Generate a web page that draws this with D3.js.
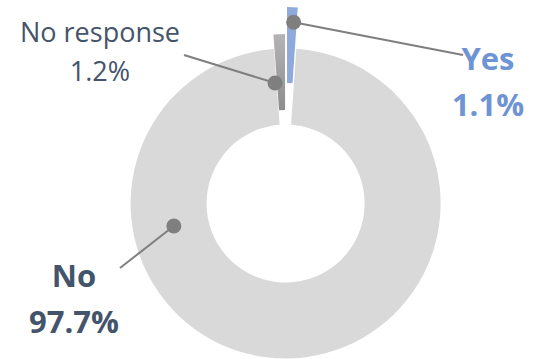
<!DOCTYPE html>
<html>
<head>
<meta charset="utf-8">
<script src="https://cdn.jsdelivr.net/npm/d3@7"></script>
<style>
  html, body { margin: 0; padding: 0; background: #fff; }
  svg { display: block; }
</style>
</head>
<body>
<div class="donut"></div>
<script>
  // data
  const categories = ['Yes', 'No', 'No response'];
  const values = [1.1, 97.7, 1.2];

  const config = {
    width: 536,
    height: 359,
    cx: 285.6,
    cy: 203.5,
    outer: 155,
    inner: 79
  };

  // per slice styling / layout
  const styles = {
    'Yes': { fill: '#8eaadc', explode: 41.5, text: '#6f94d4', bold: true, size: 31,
             dot: { angle: 2.7, r: 140 }, label: [488, 70], end: [463, 55] },
    'No': { fill: '#d9d9d9', explode: 0, text: '#44546a', bold: true, size: 31,
            dot: { angle: 258.6, r: 114 }, label: [74, 287], end: [120, 268] },
    'No response': { fill: 'url(#nrGrad)', explode: 14.5, text: '#44546a', bold: false, size: 27,
                     dot: { angle: -5.4, r: 106.5 }, label: [100, 42], end: [184, 55] }
  };

  const svg = d3.select('.donut')
    .append('svg')
    .attr('width', config.width)
    .attr('height', config.height);

  const grad = svg.append('defs').append('linearGradient')
    .attr('id', 'nrGrad')
    .attr('x1', 0).attr('y1', 0).attr('x2', 0).attr('y2', 1);
  grad.append('stop').attr('offset', '0%').attr('stop-color', '#b4b4b4');
  grad.append('stop').attr('offset', '100%').attr('stop-color', '#8c8c8c');

  const pie = d3.pie().sort(null).value(d => d.value);
  const arcs = pie(categories.map((c, i) => ({ name: c, value: values[i] })));

  const arc = d3.arc().innerRadius(config.inner).outerRadius(config.outer);

  const g = svg.append('g')
    .attr('transform', `translate(${config.cx},${config.cy})`);

  // slice offsets (exploded)
  function offset(d) {
    const mid = (d.startAngle + d.endAngle) / 2;
    return d3.pointRadial(mid, styles[d.data.name].explode);
  }

  g.selectAll('path')
    .data(arcs)
    .enter()
    .append('path')
    .attr('transform', d => `translate(${offset(d)})`)
    .attr('d', arc)
    .attr('fill', d => styles[d.data.name].fill);

  // leader lines + dots + labels
  const leaders = svg.append('g');
  arcs.forEach(d => {
    const s = styles[d.data.name];
    const o = offset(d);
    const p = d3.pointRadial(s.dot.angle * Math.PI / 180, s.dot.r);
    const x = config.cx + o[0] + p[0];
    const y = config.cy + o[1] + p[1];

    leaders.append('line')
      .attr('x1', x).attr('y1', y)
      .attr('x2', s.end[0]).attr('y2', s.end[1])
      .attr('stroke', '#7f7f7f')
      .attr('stroke-width', 2);

    leaders.append('circle')
      .attr('cx', x).attr('cy', y)
      .attr('r', 7.5)
      .attr('fill', '#7f7f7f');

    const t = svg.append('text')
      .attr('x', s.label[0])
      .attr('y', s.label[1])
      .attr('text-anchor', 'middle')
      .attr('font-family', '"Open Sans", sans-serif')
      .attr('font-size', s.size)
      .attr('font-weight', s.bold ? 'bold' : 'normal')
      .attr('fill', s.text);

    t.append('tspan')
      .attr('x', s.label[0])
      .text(d.data.name);
    t.append('tspan')
      .attr('x', s.label[0])
      .attr('dy', s.bold ? 45.5 : 39)
      .text(d3.format('.1f')(d.data.value) + '%');
  });
</script>
</body>
</html>
